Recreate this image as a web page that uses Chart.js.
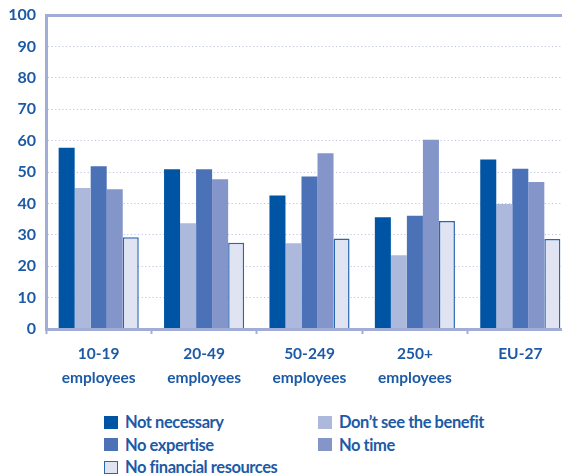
<!DOCTYPE html>
<html>
<head>
<meta charset="utf-8">
<script src="https://cdn.jsdelivr.net/npm/chart.js@4/dist/chart.umd.min.js"></script>
<style>
  html, body { margin: 0; padding: 0; background: #fff; }
  #wrap { position: relative; width: 562px; height: 476px; overflow: hidden; }
  #chartBox { position: absolute; left: 0; top: 0; width: 573px; height: 400px; }
  #legend {
    position: absolute; left: 104px; top: 411px; width: 440px;
    display: grid; grid-template-columns: 214px 220px; row-gap: 0;
    font-family: Lato, 'Liberation Sans', sans-serif;
    font-weight: bold; font-size: 16.5px; letter-spacing: -0.45px; color: #1d5aa6;
  }
  #legend .item { display: flex; align-items: center; height: 22.5px; white-space: nowrap; }
  #legend .box { width: 14px; height: 13px; margin-right: 7px; box-sizing: border-box; }
</style>
</head>
<body>
<div id="wrap">
  <div id="chartBox"><canvas id="chartReasons"></canvas></div>
  <div id="legend"></div>
</div>
<script>
// กลุ่มขนาดองค์กร
const categories = [['10-19', 'employees'], ['20-49', 'employees'], ['50-249', 'employees'], ['250+', 'employees'], 'EU-27'];
const yTicks = [0, 10, 20, 30, 40, 50, 60, 70, 80, 90, 100];

// ค่าร้อยละแต่ละเหตุผล
const notNecessary = [57.7, 50.9, 42.5, 35.6, 54.0];
const dontSeeBenefit = [44.9, 33.7, 27.3, 23.5, 39.8];
const noExpertise = [51.8, 50.9, 48.6, 36.1, 51.0];
const noTime = [44.5, 47.7, 56.0, 60.3, 46.8];
const noFinancial = [29.2, 27.5, 28.8, 34.4, 28.7];

const FONT = "Lato, 'Liberation Sans', sans-serif";
const TEXT = '#1d5aa6';
const AXIS = '#a1acd7';

const series = [
  { label: 'Not necessary', data: notNecessary, bg: '#0054a4', border: '#0054a4', bw: 0 },
  { label: 'Don\u2019t see the benefit', data: dontSeeBenefit, bg: '#adb9dc', border: '#adb9dc', bw: 0 },
  { label: 'No expertise', data: noExpertise, bg: '#4b71b7', border: '#4b71b7', bw: 0 },
  { label: 'No time', data: noTime, bg: '#8395c9', border: '#8395c9', bw: 0 },
  { label: 'No financial resources', data: noFinancial, bg: '#e0e4f2', border: '#2a66b0', bw: 1.5 }
];

const ctx = document.getElementById('chartReasons').getContext('2d');
const chart = new Chart(ctx, {
  type: 'bar',
  data: {
    labels: categories,
    datasets: series.map(s => ({
      label: s.label, data: s.data, backgroundColor: s.bg, borderColor: s.border,
      borderWidth: s.bw, borderSkipped: 'bottom', categoryPercentage: 0.76, barPercentage: 1
    }))
  },
  options: {
    responsive: true, maintainAspectRatio: false, animation: false,
    layout: { padding: { top: 15, right: 0, left: 0, bottom: 0 } },
    plugins: { legend: { display: false }, tooltip: { enabled: false } },
    scales: {
      x: {
        grid: { offset: true, drawOnChartArea: false, tickLength: 5, tickColor: AXIS, tickWidth: 2 },
        border: { color: AXIS, width: 3, z: 1 },
        ticks: { color: TEXT, padding: 8, maxRotation: 0, autoSkip: false, font: { family: FONT, size: 15.5, weight: 'bold', lineHeight: 1.55 } },
        afterFit: s => { s.height = 71; }
      },
      xTop: {
        position: 'top', grid: { display: false, drawTicks: false }, ticks: { display: false },
        border: { color: AXIS, width: 3 },
        afterFit: s => { s.height = 0; }
      },
      y: {
        min: 0, max: 100,
        afterBuildTicks: s => { s.ticks = yTicks.map(v => ({ value: v })); },
        grid: { color: '#bec5e3', lineWidth: 1, drawTicks: false },
        border: { color: AXIS, width: 3, dash: [1.2, 2.4] },
        ticks: { color: TEXT, padding: 10, font: { family: FONT, size: 16, weight: 'bold' } },
        afterFit: s => { s.width = 46; s.paddingTop = 0; s.paddingBottom = 0; }
      }
    }
  }
});

// คำอธิบายสัญลักษณ์ 2 คอลัมน์
const legendEl = document.getElementById('legend');
chart.data.datasets.forEach(ds => {
  const item = document.createElement('div');
  item.className = 'item';
  const box = document.createElement('span');
  box.className = 'box';
  box.style.background = ds.backgroundColor;
  if (ds.borderWidth) box.style.border = '1.5px solid ' + ds.borderColor;
  const txt = document.createElement('span');
  txt.textContent = ds.label;
  item.appendChild(box); item.appendChild(txt);
  legendEl.appendChild(item);
});
</script>
</body>
</html>
